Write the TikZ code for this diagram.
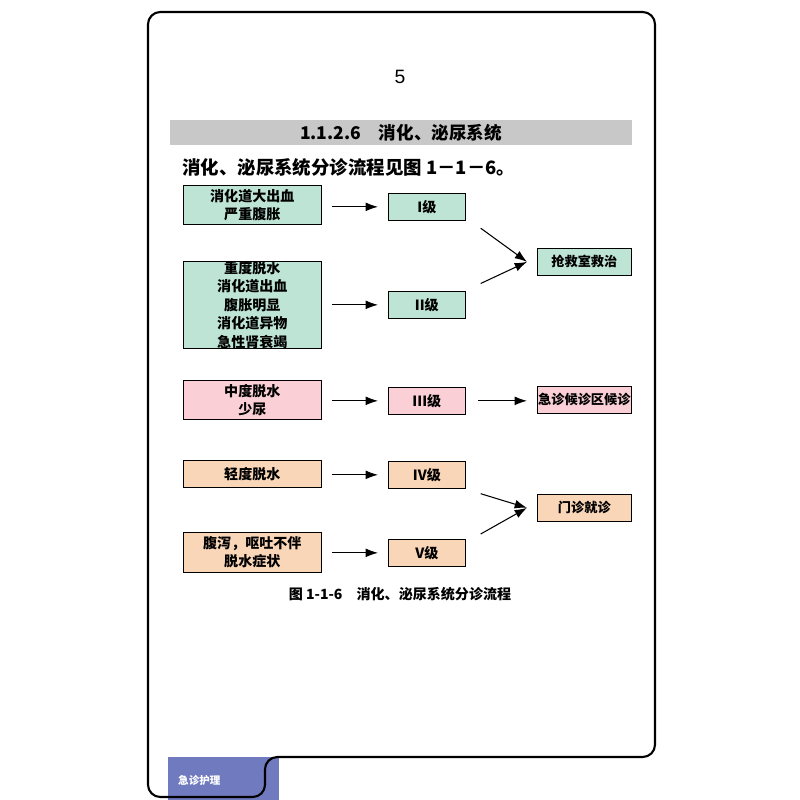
\documentclass[tikz,border=0pt]{standalone}
\usepackage{fontspec}
\setmainfont{Liberation Sans}
\newfontfamily\cjk{Noto Sans CJK SC}
\usetikzlibrary{arrows.meta}
\definecolor{tealbox}{RGB}{190,228,214}
\definecolor{pinkbox}{RGB}{250,208,214}
\definecolor{orangebox}{RGB}{250,214,184}
\definecolor{tabblue}{RGB}{112,122,190}
\definecolor{bandgray}{RGB}{200,200,200}

\begin{document}
\begin{tikzpicture}[
    x = 0.02cm, y = -0.02cm,
    box/.style = {draw, thin, font = \cjk\bfseries\fontsize{8}{10.5}\selectfont,
      align = center, inner sep = 0pt, anchor = north west},
    cond/.style = {box, minimum width = {2.76cm}},
    grade/.style = {box, minimum width = {1.54cm}, minimum height = {0.54cm}},
    dest/.style = {box, minimum width = {1.88cm}, minimum height = {0.54cm},
      font = \cjk\bfseries\fontsize{7.5}{9}\selectfont},
    teal/.style = {fill = tealbox},
    pink/.style = {fill = pinkbox},
    orange/.style = {fill = orangebox},
    link/.style = {-{Latex[length = 7pt, width = 5pt]}, semithick},
    ]

    \useasboundingbox (0, 0) rectangle (800, 800);

    % tab and frame
    \fill [tabblue] (168, 757) rectangle (279, 800);
    \node [font = \cjk\bfseries\fontsize{6}{7}\selectfont, white, anchor = west,
      name = tab] at (172, 780) {急诊护理};
    \draw [line width = 1.2pt, rounded corners = 7pt]
      (265, 797) -- (148, 797) -- (148, 12) -- (655, 12) -- (655, 757)
      -- (265, 757) -- cycle;

    \node [font = \fontsize{11}{13}\selectfont, name = page] at (400, 77) {5};
    \fill [bandgray] (170, 120) rectangle (632, 145);
    \node [font = \cjk\bfseries\fontsize{10}{12}\selectfont, name = head]
      at (401, 132.5) {1.1.2.6\quad 消化、泌尿系统};
    \node [font = \cjk\bfseries\fontsize{10.5}{13}\selectfont, anchor = west,
      name = intro] at (176, 167) {消化、泌尿系统分诊流程见图 1－1－6。};

    % conditions
    \node at (183, 185) [cond, teal, minimum height = {0.78cm}, name = c1]
      {消化道大出血\\严重腹胀};
    \node at (183, 261) [cond, teal, minimum height = {1.6cm}, name = c2]
      {重度脱水\\消化道出血\\腹胀明显\\消化道异物\\急性肾衰竭};
    \node at (183, 380) [cond, pink, minimum height = {0.78cm}, name = c3]
      {中度脱水\\少尿};
    \node at (183, 460) [cond, orange, minimum height = {0.54cm}, name = c4]
      {轻度脱水};
    \node at (183, 532) [cond, orange, minimum height = {0.8cm}, name = c5]
      {腹泻，呕吐不伴\\脱水症状};

    % grades
    \node at (388, 193) [grade, teal, name = g1] {I级};
    \node at (388, 291) [grade, teal, name = g2] {II级};
    \node at (388, 387) [grade, pink, name = g3] {III级};
    \node at (388, 461) [grade, orange, name = g4] {IV级};
    \node at (388, 539) [grade, orange, name = g5] {V级};

    % destinations
    \node at (537, 248) [dest, teal, name = rescue] {抢救室救治};
    \node at (537, 386) [dest, pink, name = waiting] {急诊候诊区候诊};
    \node at (537, 494) [dest, orange, name = clinic] {门诊就诊};

    \foreach \i in {1, ..., 5}
      \draw [link] ([xshift = 0.2cm] c\i.east |- g\i.west) -- ([xshift = -0.2cm] g\i.west);

    \draw [link] ([shift = {(0.3cm, -0.15cm)}] g1.south east) -- ([xshift = -0.2cm] rescue.west);
    \draw [link] ([shift = {(0.3cm, 0.15cm)}] g2.north east) -- ([xshift = -0.2cm] rescue.west);
    \draw [link] ([xshift = 0.25cm] g3.east) -- ([xshift = -0.2cm] waiting.west |- g3.east);
    \draw [link] ([shift = {(0.3cm, -0.1cm)}] g4.south east) -- ([xshift = -0.2cm] clinic.west);
    \draw [link] ([shift = {(0.3cm, 0.1cm)}] g5.north east) -- ([xshift = -0.2cm] clinic.west);

    \node [font = \cjk\bfseries\fontsize{8}{10}\selectfont, name = caption]
      at (400, 594) {图 1-1-6\quad 消化、泌尿系统分诊流程};
  \end{tikzpicture}
\end{document}
